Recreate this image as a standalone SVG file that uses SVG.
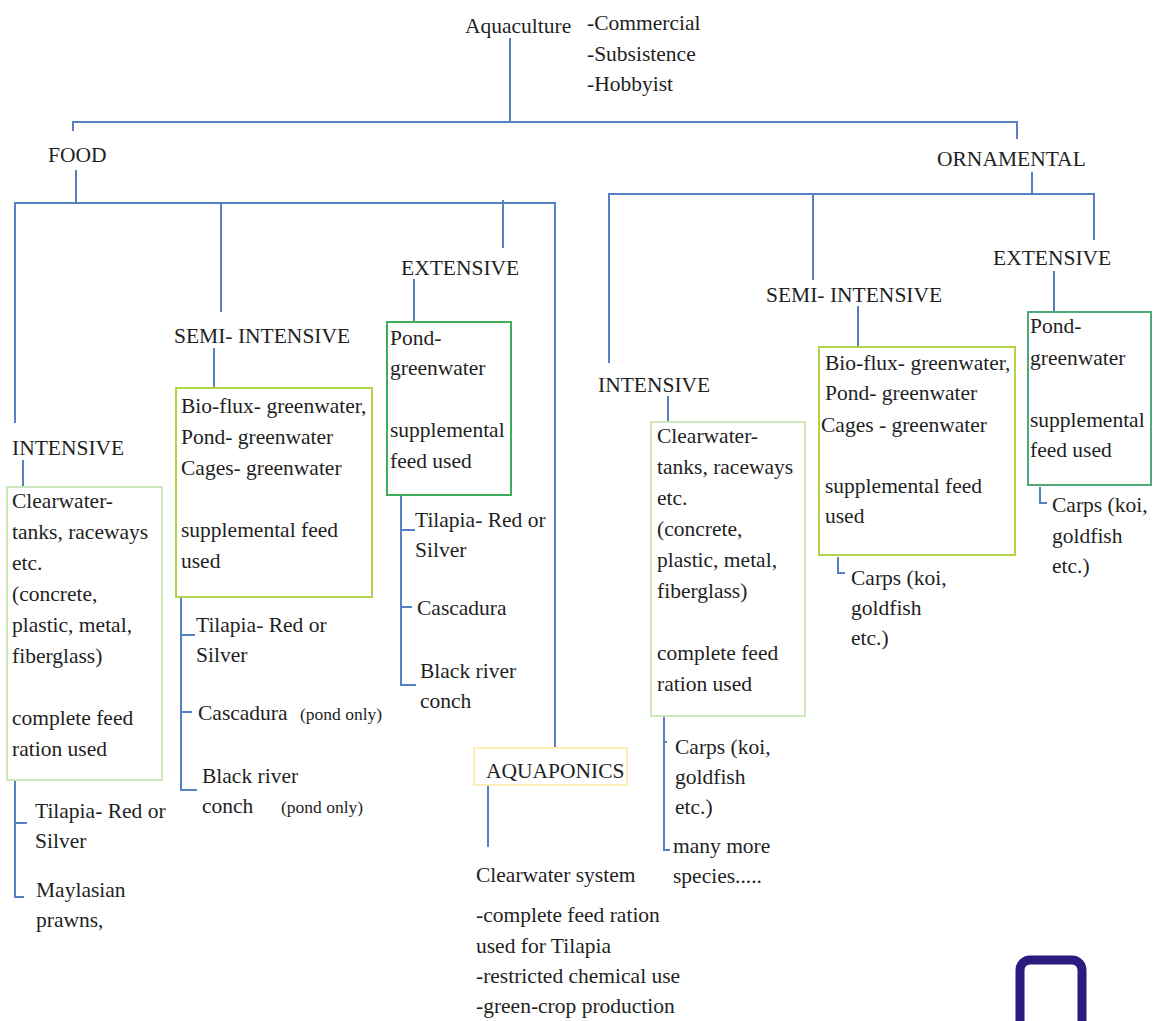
<svg xmlns="http://www.w3.org/2000/svg" width="1155" height="1021" viewBox="0 0 1155 1021" font-family="Liberation Serif, Times New Roman, DejaVu Serif, serif">
<style>
text{font-family:'Liberation Serif','Times New Roman','DejaVu Serif',serif;font-size:21.5px;fill:#1f1f1f}
.sm{font-size:17.5px}
.c{fill:none;stroke:#5580c4;stroke-width:2}
.box{fill:#fff;stroke-width:2}
.pale{stroke:#cbe7bb}
.yg{stroke:#b2d548}
.gr{stroke:#3fae5a}
.tg{stroke:#4faa77}
.yl{stroke:#fcf0b8}
</style>
<rect width="1155" height="1021" fill="#fff"/>
<g id="connectors">
<path class="c" d="M510 38V122M73 131V122H1017V139"/>
<path class="c" d="M76 170V203M15 423V203H555V752M221 203V312M503 200V248"/>
<path class="c" d="M414 279V322M214 348V388M23 460V487"/>
<path class="c" d="M401 495V685H416M401 530H415M401 607H412"/>
<path class="c" d="M181 597V790H197M181 635H195M181 712H192"/>
<path class="c" d="M15 780V897H24M15 823H27"/>
<path class="c" d="M488 785V847"/>
<path class="c" d="M1032 172V194M609 363V194H1094V240M813 194V280"/>
<path class="c" d="M1054 271V312M858 306V347M668 396V422"/>
<path class="c" d="M1040 487V503H1047M838 557V573H845"/>
<path class="c" d="M664 716V850H670M664 742H667"/>
</g>
<g id="aquaculture">
<text x="465" y="33">Aquaculture</text>
<text x="587" y="30">-Commercial</text>
<text x="587" y="61">-Subsistence</text>
<text x="587" y="91">-Hobbyist</text>
</g>
<g id="food"><text x="48" y="162">FOOD</text></g>
<g id="ornamental"><text x="937" y="166">ORNAMENTAL</text></g>
<g id="food-extensive">
<text x="401" y="275">EXTENSIVE</text>
<rect class="box gr" x="387" y="322" width="124" height="173"/>
<text x="390" y="345">Pond-</text>
<text x="390" y="375">greenwater</text>
<text x="390" y="437">supplemental</text>
<text x="390" y="468">feed used</text>
</g>
<g id="food-extensive-species">
<text x="415" y="527">Tilapia- Red or</text>
<text x="415" y="557">Silver</text>
<text x="417" y="615">Cascadura</text>
<text x="420" y="678">Black river</text>
<text x="420" y="708">conch</text>
</g>
<g id="food-semi">
<text x="174" y="343">SEMI- INTENSIVE</text>
<rect class="box yg" x="176" y="388" width="196" height="209"/>
<text x="181" y="413">Bio-flux- greenwater,</text>
<text x="181" y="444">Pond- greenwater</text>
<text x="181" y="475">Cages- greenwater</text>
<text x="181" y="537">supplemental feed</text>
<text x="181" y="568">used</text>
</g>
<g id="food-semi-species">
<text x="196" y="632">Tilapia- Red or</text>
<text x="196" y="662">Silver</text>
<text x="198" y="720">Cascadura</text>
<text class="sm" x="300" y="720">(pond only)</text>
<text x="202" y="783">Black river</text>
<text x="202" y="813">conch</text>
<text class="sm" x="281" y="813">(pond only)</text>
</g>
<g id="food-intensive">
<text x="12" y="455">INTENSIVE</text>
<rect class="box pale" x="7" y="487" width="155" height="293"/>
<text x="12" y="508">Clearwater-</text>
<text x="12" y="539">tanks, raceways</text>
<text x="12" y="570">etc.</text>
<text x="12" y="601">(concrete,</text>
<text x="12" y="632">plastic, metal,</text>
<text x="12" y="663">fiberglass)</text>
<text x="12" y="725">complete feed</text>
<text x="12" y="756">ration used</text>
</g>
<g id="food-intensive-species">
<text x="35" y="818">Tilapia- Red or</text>
<text x="35" y="848">Silver</text>
<text x="36" y="897">Maylasian</text>
<text x="36" y="927">prawns,</text>
</g>
<g id="aquaponics">
<rect class="box yl" x="474" y="748" width="153" height="37"/>
<text x="486" y="778">AQUAPONICS</text>
<text x="476" y="882">Clearwater system</text>
<text x="476" y="922">-complete feed ration</text>
<text x="476" y="953">used for Tilapia</text>
<text x="476" y="983">-restricted chemical use</text>
<text x="476" y="1013">-green-crop production</text>
</g>
<g id="orn-intensive">
<text x="598" y="392">INTENSIVE</text>
<rect class="box pale" x="651" y="422" width="154" height="294"/>
<text x="657" y="443">Clearwater-</text>
<text x="657" y="474">tanks, raceways</text>
<text x="657" y="505">etc.</text>
<text x="657" y="536">(concrete,</text>
<text x="657" y="567">plastic, metal,</text>
<text x="657" y="598">fiberglass)</text>
<text x="657" y="660">complete feed</text>
<text x="657" y="691">ration used</text>
</g>
<g id="orn-intensive-species">
<text x="675" y="754">Carps (koi,</text>
<text x="675" y="784">goldfish</text>
<text x="675" y="814">etc.)</text>
<text x="673" y="853">many more</text>
<text x="673" y="883">species.....</text>
</g>
<g id="orn-semi">
<text x="766" y="302">SEMI- INTENSIVE</text>
<rect class="box yg" x="819" y="347" width="196" height="208"/>
<text x="825" y="370">Bio-flux- greenwater,</text>
<text x="825" y="400">Pond- greenwater</text>
<text x="821" y="432">Cages - greenwater</text>
<text x="825" y="493">supplemental feed</text>
<text x="825" y="523">used</text>
</g>
<g id="orn-semi-species">
<text x="851" y="585">Carps (koi,</text>
<text x="851" y="615">goldfish</text>
<text x="851" y="645">etc.)</text>
</g>
<g id="orn-extensive">
<text x="993" y="265">EXTENSIVE</text>
<rect class="box tg" x="1028" y="312" width="123" height="173"/>
<text x="1030" y="333">Pond-</text>
<text x="1030" y="365">greenwater</text>
<text x="1030" y="427">supplemental</text>
<text x="1030" y="457">feed used</text>
</g>
<g id="orn-extensive-species">
<text x="1052" y="512">Carps (koi,</text>
<text x="1052" y="543">goldfish</text>
<text x="1052" y="573">etc.)</text>
</g>
<g id="corner-mark">
<rect x="1020" y="960" width="62" height="90" rx="10" fill="none" stroke="#2b1b80" stroke-width="9"/>
</g>
</svg>
